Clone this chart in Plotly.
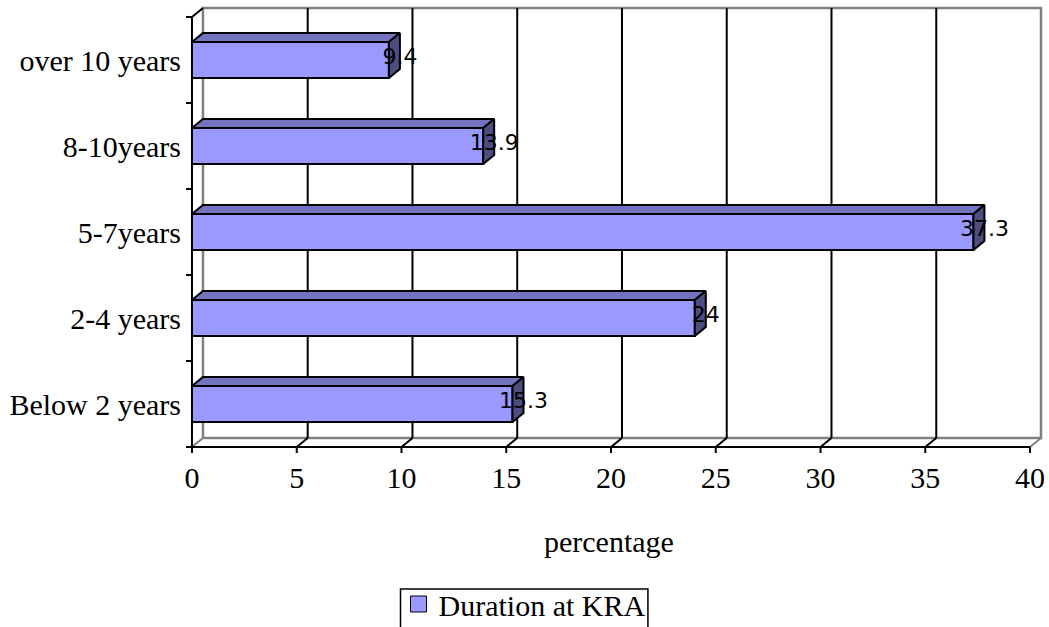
import plotly.graph_objects as go

# ---- data -------------------------------------------------------------
categories = ["Below 2 years", "2-4 years", "5-7years", "8-10years", "over 10 years"]
values = [15.3, 24, 37.3, 13.9, 9.4]
value_labels = ["15.3", "24", "37.3", "13.9", "9.4"]
x_ticks = [0, 5, 10, 15, 20, 25, 30, 35, 40]
series_name = "Duration at KRA"
x_title = "percentage"

# ---- geometry / style -------------------------------------------------
W, H = 1049, 627
PX_X = 21.0            # pixels per percentage point
PX_Y = 86.0            # pixels per category slot
DEPTH_X = 11 / PX_X    # 3-D depth offset, x units
DEPTH_Y = 9 / PX_Y     # 3-D depth offset, category units
BAR_H = 36 / PX_Y      # thickness of the bar front face
TICK_X = 6 / PX_X
TICK_Y = 6 / PX_Y
X_MAX = x_ticks[-1]

FRONT = "#9999FF"
TOP = "#7373BF"
SIDE = "#4D4D80"
WALL = "#808080"
SERIF = "Liberation Serif"
FONT_SIZE = 30

pos = list(range(len(categories)))
y_lo, y_hi = -0.5, len(categories) - 0.5

x_range = [-8 / PX_X, X_MAX + DEPTH_X + 2 / PX_X]
y_range = [y_lo - 8 / PX_Y, y_hi + DEPTH_Y + 2 / PX_Y]
plot_w = (x_range[1] - x_range[0]) * PX_X
plot_h = (y_range[1] - y_range[0]) * PX_Y
m_l, m_t = 184, 6
m_r = W - m_l - plot_w
m_b = H - m_t - plot_h


def paper_x(px):
    return (px - m_l) / plot_w


def paper_y(py):
    return (H - m_b - py) / plot_h


def line(x0, y0, x1, y1, color="black", width=2):
    return dict(type="line", xref="x", yref="y", x0=x0, y0=y0, x1=x1, y1=y1,
                line=dict(color=color, width=width), layer="below")


shapes = []
# back wall outline
shapes.append(dict(type="rect", xref="x", yref="y", x0=DEPTH_X, y0=y_lo + DEPTH_Y,
                   x1=X_MAX + DEPTH_X, y1=y_hi + DEPTH_Y,
                   line=dict(color=WALL, width=2.5), fillcolor="rgba(0,0,0,0)", layer="below"))
# gridlines on the back wall
for t in x_ticks[1:-1]:
    shapes.append(line(t + DEPTH_X, y_lo + DEPTH_Y, t + DEPTH_X, y_hi + DEPTH_Y))
# floor depth lines
for t in x_ticks:
    c = WALL if t in (x_ticks[0], x_ticks[-1]) else "black"
    shapes.append(line(t, y_lo, t + DEPTH_X, y_lo + DEPTH_Y, color=c))
# top-left depth line of the category axis
shapes.append(line(0, y_hi, DEPTH_X, y_hi + DEPTH_Y))
# front axes
shapes.append(line(0, y_lo, 0, y_hi))
shapes.append(line(0, y_lo, X_MAX, y_lo))
# tick marks
for t in x_ticks:
    shapes.append(line(t, y_lo, t, y_lo - TICK_Y))
for k in range(len(categories) + 1):
    b = y_lo + k
    shapes.append(line(0, b, -TICK_X, b))
# legend frame
shapes.append(dict(type="rect", xref="paper", yref="paper",
                   x0=paper_x(401), x1=paper_x(649), y0=paper_y(630), y1=paper_y(589),
                   line=dict(color="black", width=1.5), fillcolor="rgba(0,0,0,0)"))

fig = go.Figure()

# bar front faces
fig.add_trace(go.Bar(
    x=values, y=pos, orientation="h", width=BAR_H, base=0,
    marker=dict(color=FRONT, line=dict(color="black", width=2)),
    showlegend=False, hoverinfo="skip",
))

# top and side faces of each bar
for p, v in zip(pos, values):
    yt, yb = p + BAR_H / 2, p - BAR_H / 2
    fig.add_trace(go.Scatter(
        x=[0, v, v + DEPTH_X, DEPTH_X, 0],
        y=[yt, yt, yt + DEPTH_Y, yt + DEPTH_Y, yt],
        mode="lines", fill="toself", fillcolor=TOP,
        line=dict(color="black", width=2), showlegend=False, hoverinfo="skip",
    ))
    fig.add_trace(go.Scatter(
        x=[v, v + DEPTH_X, v + DEPTH_X, v, v],
        y=[yb, yb + DEPTH_Y, yt + DEPTH_Y, yt, yb],
        mode="lines", fill="toself", fillcolor=SIDE,
        line=dict(color="black", width=2), showlegend=False, hoverinfo="skip",
    ))

# value labels
fig.add_trace(go.Scatter(
    x=[v + DEPTH_X for v in values], y=[p + 0.015 for p in pos],
    mode="text", text=value_labels, textposition="middle center",
    textfont=dict(family="DejaVu Sans", size=22, color="black"),
    cliponaxis=False, showlegend=False, hoverinfo="skip",
))

# legend entry
fig.add_trace(go.Scatter(
    x=[None], y=[None], mode="markers", name=series_name,
    marker=dict(symbol="square", size=16, color=FRONT, line=dict(color="black", width=1)),
))

fig.add_annotation(
    text=x_title, xref="paper", yref="paper",
    x=paper_x(610), y=paper_y(541),
    xanchor="center", yanchor="middle", showarrow=False,
    font=dict(family=SERIF, size=FONT_SIZE, color="black"),
)

fig.update_layout(
    width=W, height=H,
    margin=dict(l=m_l, r=m_r, t=m_t, b=m_b, pad=0),
    paper_bgcolor="white", plot_bgcolor="white",
    shapes=shapes,
    xaxis=dict(range=x_range, tickmode="array", tickvals=x_ticks, ticks="",
               showgrid=False, zeroline=False, showline=False,
               tickfont=dict(family=SERIF, size=FONT_SIZE, color="black"),
               ticklabelstandoff=2),
    yaxis=dict(range=y_range, tickmode="array", tickvals=pos, ticktext=categories,
               ticks="", showgrid=False, zeroline=False, showline=False,
               tickfont=dict(family=SERIF, size=FONT_SIZE, color="black"),
               ticklabelstandoff=2),
    legend=dict(xref="container", yref="container", x=0.5, xanchor="center",
                y=1 - 578 / H, yanchor="top", orientation="h",
                font=dict(family=SERIF, size=FONT_SIZE, color="black"),
                borderwidth=0, bgcolor="rgba(0,0,0,0)"),
    showlegend=True,
)

fig.write_html("out.html")
